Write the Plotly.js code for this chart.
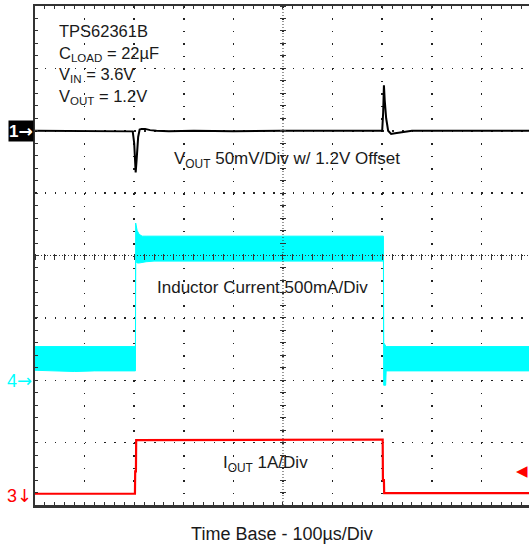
<!DOCTYPE html>
<html>
<head>
<meta charset="utf-8">
<script src="https://cdn.plot.ly/plotly-3.0.1.min.js"></script>
<style>html,body{margin:0;padding:0;background:#fff;}#chart{width:529px;height:546px;}</style>
</head>
<body>
<div id="chart"></div>
<script>
// Time in microseconds (100 us/div), amplitudes in scope divisions (0..8 from bottom)
const tVout = [0, 50, 100, 150, 190, 197, 200, 203, 205, 208, 211, 215, 222, 232, 245, 270, 320, 400, 500, 600, 690, 700, 702, 703.5, 705, 708, 712, 718, 726, 740, 760, 800, 900, 996];
const vOut  = [6.0, 6.0, 5.99, 6.0, 6.0, 5.99, 5.8, 5.33, 5.55, 5.9, 6.02, 6.03, 6.03, 6.01, 6.0, 5.99, 6.0, 5.99, 6.0, 6.0, 6.0, 6.0, 6.3, 6.73, 6.5, 6.2, 6.0, 5.95, 5.96, 5.98, 6.0, 6.0, 6.0, 6.0];

const tInd   = [0, 40, 80, 120, 160, 202.5, 203, 204, 206, 210, 216, 224, 240, 300, 400, 500, 600, 702.5, 703, 705, 707, 708, 740, 800, 900, 996];
const indHi  = [2.54, 2.54, 2.55, 2.54, 2.54, 2.54, 4.52, 4.48, 4.40, 4.34, 4.31, 4.31, 4.31, 4.31, 4.30, 4.31, 4.31, 4.31, 2.6, 2.57, 2.55, 2.54, 2.54, 2.54, 2.54, 2.54];
const indLo  = [2.16, 2.15, 2.14, 2.15, 2.15, 2.15, 3.91, 3.89, 3.88, 3.88, 3.89, 3.90, 3.91, 3.91, 3.91, 3.91, 3.91, 3.91, 1.92, 1.92, 1.92, 2.15, 2.15, 2.16, 2.15, 2.15];

const tIout = [0, 100, 200, 201.5, 202, 203.5, 204, 300, 400, 500, 600, 701, 701.5, 703.5, 704, 800, 900, 996];
const iOut  = [0.18, 0.18, 0.18, 0.18, 0.54, 0.54, 1.04, 1.04, 1.05, 1.05, 1.05, 1.05, 0.4, 0.4, 0.19, 0.19, 0.19, 0.19];

const ch1Level = 6, ch4Level = 2, ch3Level = 0.16, trigLevel = 0.55;
const timeRange = [0, 996], divRange = [0, 8];
const infoLines = ["TPS62361B", "C<sub>LOAD</sub> = 22µF", "V<sub>IN</sub> = 3.6V", "V<sub>OUT</sub> = 1.2V"];

const FONT = "Liberation Sans, Arial, sans-serif";
const CYAN = "#00FFFF", RED = "#FF0000", TXT = "#1a1a1a";
const ARROW = (a) => '<span style="font-family:DejaVu Sans">' + a + '</span>';

const traces = [
  {x: tInd, y: indLo, mode: "lines", line: {color: CYAN, width: 1}, hoverinfo: "skip"},
  {x: tInd, y: indHi, mode: "lines", fill: "tonexty", fillcolor: CYAN, line: {color: CYAN, width: 1}, hoverinfo: "skip"},
  {x: tIout, y: iOut, mode: "lines", line: {color: RED, width: 2.2}},
  {x: tVout, y: vOut, mode: "lines", line: {color: "#000", width: 2}},
  {x: [], y: [], xaxis: "x2", yaxis: "y"},
  {x: [], y: [], xaxis: "x", yaxis: "y2"}
];

const plotW = 494, plotH = 499;
const gridX = {
  range: timeRange, dtick: 100, tick0: 0, showgrid: true, gridcolor: "#222", gridwidth: 1.5,
  griddash: "1.5px," + (plotH / 40 - 1.5) + "px",
  showline: true, linecolor: "#333", linewidth: 2.5, mirror: "ticks",
  ticks: "inside", ticklen: 3, tickcolor: "#333", tickwidth: 1,
  minor: {dtick: 20, ticks: "inside", ticklen: 3, tickcolor: "#333", tickwidth: 1, showgrid: false},
  showticklabels: false, zeroline: false, fixedrange: true,
  title: {text: "Time Base - 100µs/Div", font: {family: FONT, size: 18, color: TXT}, standoff: 21}
};
const gridY = {
  range: divRange, dtick: 1, tick0: 0, showgrid: true, gridcolor: "#222", gridwidth: 1.5,
  griddash: "1.5px," + (plotW / 49.8 - 1.5) + "px",
  showline: true, linecolor: "#333", linewidth: 2.5,
  ticks: "inside", ticklen: 3, tickcolor: "#333", tickwidth: 1,
  minor: {dtick: 0.2, ticks: "inside", ticklen: 3, tickcolor: "#333", tickwidth: 1, showgrid: false},
  showticklabels: false, zeroline: false, fixedrange: true
};

const ann = [];
infoLines.forEach((s, i) => ann.push({
  xref: "x", yref: "paper", x: 44, y: 1, xanchor: "left", yanchor: "top", yshift: -14 - i * 21.6,
  text: s, showarrow: false, font: {family: FONT, size: 16.5, color: TXT}
}));
ann.push({x: 277, y: 5.53, xanchor: "left", yanchor: "middle", showarrow: false,
  text: "V<sub>OUT</sub> 50mV/Div w/ 1.2V Offset", font: {family: FONT, size: 17, color: TXT}});
ann.push({x: 241, y: 3.49, xanchor: "left", yanchor: "middle", showarrow: false,
  text: "Inductor Current 500mA/Div", font: {family: FONT, size: 17, color: TXT}});
ann.push({x: 374, y: 0.65, xanchor: "left", yanchor: "middle", showarrow: false,
  text: "I<sub>OUT</sub> 1A/Div", font: {family: FONT, size: 17, color: TXT}});
ann.push({xref: "paper", x: 0, y: ch1Level, xanchor: "right", yanchor: "middle", xshift: -1, showarrow: false,
  text: "<b>1" + ARROW("→") + "</b>", bgcolor: "#000", borderpad: 0, font: {family: FONT, size: 17, color: "#fff"}});
ann.push({xref: "paper", x: 0, y: ch4Level, xanchor: "right", yanchor: "middle", xshift: -1, showarrow: false,
  text: "4" + ARROW("→"), font: {family: FONT, size: 18, color: CYAN}});
ann.push({xref: "paper", x: 0, y: ch3Level, xanchor: "right", yanchor: "middle", xshift: -1, showarrow: false,
  text: "3" + ARROW("↓"), font: {family: FONT, size: 18, color: RED}});
ann.push({xref: "paper", x: 1, y: trigLevel, xanchor: "right", yanchor: "middle", xshift: 1, showarrow: false,
  text: "◀", font: {family: "DejaVu Sans", size: 15, color: RED}});

const layout = {
  width: 529, height: 546,
  margin: {l: 35, r: 0, t: 6, b: 41},
  paper_bgcolor: "#fff", plot_bgcolor: "#fff",
  showlegend: false,
  xaxis: gridX,
  yaxis: gridY,
  xaxis2: {overlaying: "x", range: timeRange, anchor: "free", position: 0.5 + 3 / plotH, side: "bottom",
    dtick: 20, tick0: 0, ticks: "outside", ticklen: 6, tickcolor: "#333", tickwidth: 1,
    showticklabels: false, showgrid: false, showline: false, zeroline: false, layer: "above traces", fixedrange: true},
  yaxis2: {overlaying: "y", range: divRange, anchor: "free", position: (500 / 996) + 3 / plotW, side: "left",
    dtick: 0.2, tick0: 0, ticks: "outside", ticklen: 6, tickcolor: "#333", tickwidth: 1,
    showticklabels: false, showgrid: false, showline: false, zeroline: false, layer: "above traces", fixedrange: true},
  shapes: [
    {type: "line", xref: "paper", x0: 0, x1: 1, yref: "y", y0: 4, y1: 4, layer: "above",
      line: {color: "#333", width: 1, dash: "1px,2px"}},
    {type: "line", xref: "x", x0: 500, x1: 500, yref: "paper", y0: 0, y1: 1, layer: "above",
      line: {color: "#333", width: 1, dash: "1px,2px"}}
  ],
  annotations: ann,
  font: {family: FONT}
};

Plotly.newPlot("chart", traces, layout, {displayModeBar: false, staticPlot: true});
</script>
</body>
</html>
